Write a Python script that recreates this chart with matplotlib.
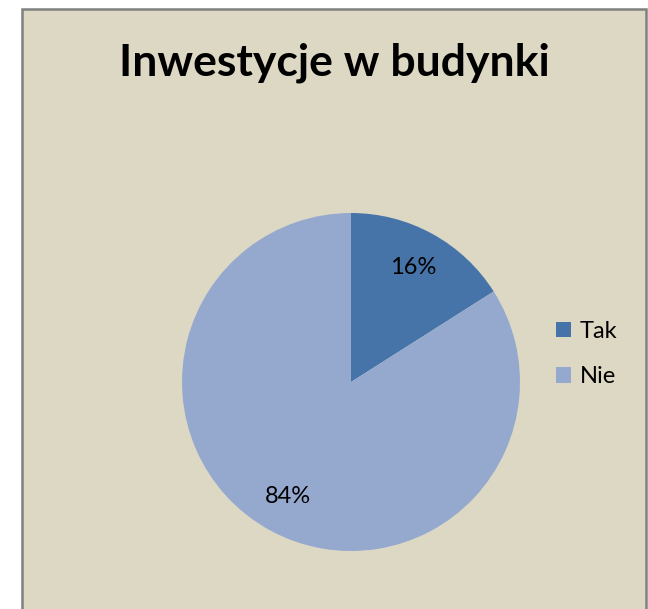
import matplotlib
matplotlib.use("Agg")
import matplotlib.pyplot as plt
from matplotlib.patches import Rectangle

title = "Inwestycje w budynki"
labels = ["Tak", "Nie"]
shares = [16, 84]
slice_colors = ["#4674A9", "#95A9CF"]

plt.rcParams['font.family'] = ['Lato', 'DejaVu Sans']

W, H = 648, 609
fig = plt.figure(figsize=(W / 100, H / 100), dpi=100)
fig.patch.set_facecolor("white")

# chart area with grey frame (runs off the bottom)
fig.patches.append(Rectangle((22 / W, -0.05), (646 - 22) / W, (H - 9) / H + 0.05,
                             transform=fig.transFigure, facecolor="#DDD8C3",
                             edgecolor="#808080", linewidth=1.8, zorder=-5))

fig.text(334 / W, 1 - 63 / H, title, ha="center", va="center",
         fontsize=32, fontweight="bold", color="black")

cx, cy, r = 351, 382, 169
ax = fig.add_axes([(cx - r) / W, (H - cy - r) / H, 2 * r / W, 2 * r / H])
ax.set_zorder(2)
wedges, _, autotexts = ax.pie(shares, colors=slice_colors, startangle=90,
                              counterclock=False, autopct="%d%%",
                              pctdistance=0.77, radius=1,
                              textprops=dict(fontsize=17, color="black"))
ax.set_xlim(-1, 1)
ax.set_ylim(-1, 1)
ax.set_aspect("equal")
ax.axis("off")

fig.legend(wedges, labels, loc="center left",
           bbox_to_anchor=(556 / W, 1 - 354 / H), frameon=False,
           fontsize=17, handlelength=0.64, handleheight=0.64,
           handletextpad=0.35, labelspacing=1.05, borderpad=0,
           borderaxespad=0)

fig.savefig("out.png", dpi=100)
